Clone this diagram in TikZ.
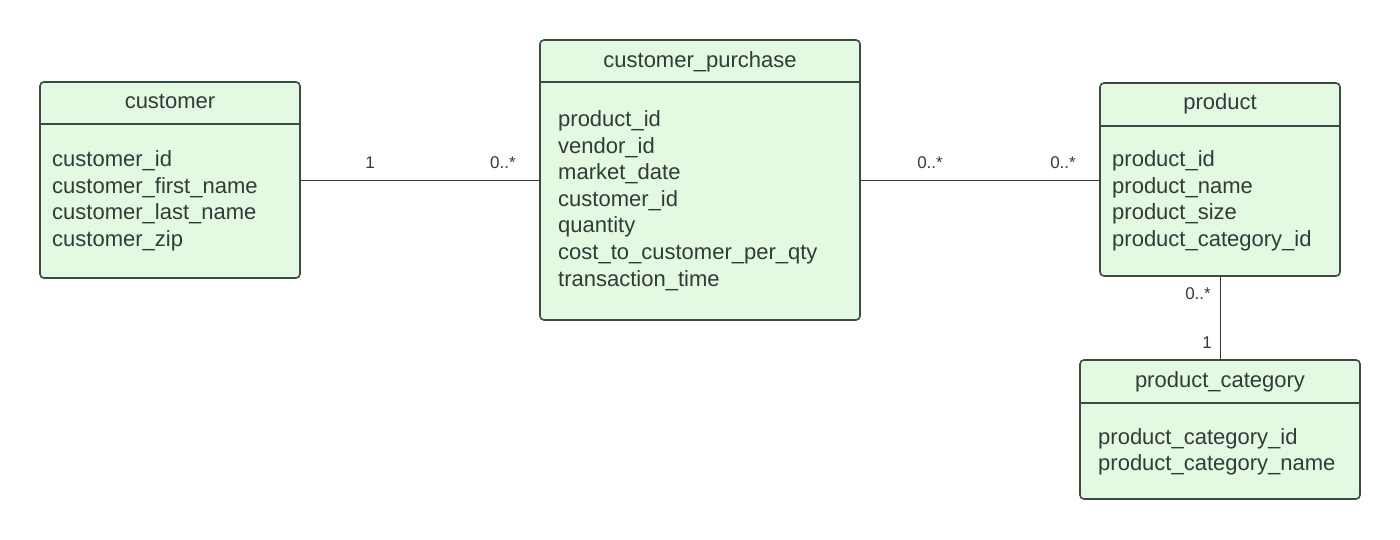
\documentclass[tikz,border=0pt]{standalone}
\usepackage{fontspec}
\setmainfont{Liberation Sans}
\definecolor{boxfill}{HTML}{E3F9E1}
\definecolor{boxline}{HTML}{3B4A45}
\definecolor{txt}{HTML}{333A38}
\begin{document}
\begin{tikzpicture}[x=1pt,y=-1pt,
 entity/.style={draw=boxline, fill=boxfill, line width=1.6pt, rounded corners=4pt, inner sep=0pt, outer sep=0pt, anchor=north west},
 divider/.style={draw=boxline, line width=1.6pt},
 ttl/.style={font=\fontsize{22}{26}\selectfont, text=txt, anchor=base, inner sep=0pt},
 fld/.style={font=\fontsize{22}{26}\selectfont, text=txt, anchor=base west, inner sep=0pt},
 mult/.style={font=\fontsize{17}{20}\selectfont, text=txt, inner sep=0pt},
 conn/.style={draw=txt, line width=0.8pt}]
\useasboundingbox (0,0) rectangle (1400,540);

% customer
\node[entity, minimum width=260pt, minimum height=196pt] (cust) at (40,82) {};
\draw[divider] ([yshift=-42pt]cust.north west) -- ([yshift=-42pt]cust.north east);
\node[ttl] (custT) at (170,108.5) {customer};
\foreach \t [count=\i from 0] in {customer\_id, customer\_first\_name, customer\_last\_name, customer\_zip}
  \node[fld] (custF\i) at (52,{166.5+26.6*\i}) {\t};

% customer_purchase
\node[entity, minimum width=320pt, minimum height=280pt] (cp) at (540,40) {};
\draw[divider] ([yshift=-42pt]cp.north west) -- ([yshift=-42pt]cp.north east);
\node[ttl] (cpT) at (700,67.5) {customer\_purchase};
\foreach \t [count=\i from 0] in {product\_id, vendor\_id, market\_date, customer\_id, quantity, cost\_to\_customer\_per\_qty, transaction\_time}
  \node[fld] (cpF\i) at (558,{126.5+26.6*\i}) {\t};

% product
\node[entity, minimum width=240pt, minimum height=193pt] (prod) at (1100,83) {};
\draw[divider] ([yshift=-43pt]prod.north west) -- ([yshift=-43pt]prod.north east);
\node[ttl] (prodT) at (1220,110) {product};
\foreach \t [count=\i from 0] in {product\_id, product\_name, product\_size, product\_category\_id}
  \node[fld] (prodF\i) at (1112,{166.5+26.6*\i}) {\t};

% product_category
\node[entity, minimum width=280pt, minimum height=139pt] (pc) at (1080,360) {};
\draw[divider] ([yshift=-43pt]pc.north west) -- ([yshift=-43pt]pc.north east);
\node[ttl] (pcT) at (1220,387.5) {product\_category};
\foreach \t [count=\i from 0] in {product\_category\_id, product\_category\_name}
  \node[fld] (pcF\i) at (1098,{444+26.6*\i}) {\t};

% connectors
\draw[conn] (cust.east) -- (cp.west);
\draw[conn] (cp.east) -- (cp.east -| prod.west);
\draw[conn] (prod.south) -- (pc.north);

% multiplicities
\node[mult] (m1) at (370,162.5) {1};
\node[mult] (m2) at (503,162.5) {0..*};
\node[mult] (m3) at (930,162.5) {0..*};
\node[mult] (m4) at (1063,162.5) {0..*};
\node[mult] (m5) at (1198,293.5) {0..*};
\node[mult] (m6) at (1207,342.5) {1};
\end{tikzpicture}
\end{document}
